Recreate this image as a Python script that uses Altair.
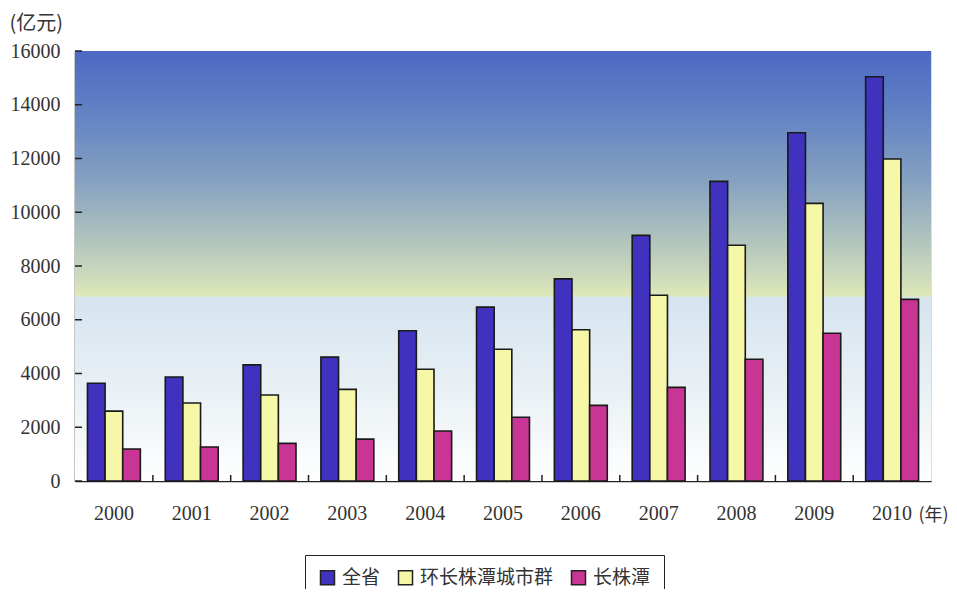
import altair as alt
import pandas as pd

years = ["2000", "2001", "2002", "2003", "2004", "2005", "2006", "2007", "2008", "2009", "2010"]
series = ["全省", "环长株潭城市群", "长株潭"]
quansheng = [3640, 3870, 4320, 4610, 5590, 6470, 7520, 9140, 11150, 12960, 15040]
huan = [2600, 2900, 3200, 3410, 4160, 4900, 5630, 6910, 8770, 10330, 11980]
czt = [1190, 1265, 1400, 1560, 1860, 2370, 2815, 3485, 4530, 5495, 6760]
colors = ["#4032bf", "#f7f7a8", "#c83595"]
y_ticks = [0, 2000, 4000, 6000, 8000, 10000, 12000, 14000, 16000]

rows = []
for s, vals in zip(series, [quansheng, huan, czt]):
    for y, v in zip(years, vals):
        rows.append({"year": y, "series": s, "value": v})
df = pd.DataFrame(rows)

W, H = 856, 430

xscale = alt.Scale(domain=years, paddingInner=0.32, paddingOuter=0.16)
yscale = alt.Scale(domain=[0, 16000], nice=False, zero=True)

bg = alt.Chart(pd.DataFrame({"a": [0]})).mark_rect(
    fill=alt.Gradient(
        gradient="linear", x1=0, y1=0, x2=0, y2=1,
        stops=[
            alt.GradientStop(offset=0.0, color="#4c68c4"),
            alt.GradientStop(offset=0.15, color="#6483c3"),
            alt.GradientStop(offset=0.30, color="#85a1c1"),
            alt.GradientStop(offset=0.42, color="#aabfbe"),
            alt.GradientStop(offset=0.52, color="#cbd9bc"),
            alt.GradientStop(offset=0.570, color="#dfe8b8"),
            alt.GradientStop(offset=0.573, color="#d6e4ef"),
            alt.GradientStop(offset=0.80, color="#eaf1f5"),
            alt.GradientStop(offset=1.0, color="#ffffff"),
        ],
    )
).encode(x=alt.value(0), x2=alt.value(W), y=alt.value(0), y2=alt.value(H))

bars = alt.Chart(df).mark_bar(stroke="#1a1a1a", strokeWidth=1.6).encode(
    x=alt.X("year:N", scale=xscale, sort=years,
            axis=alt.Axis(title="(年)", labelAngle=0, ticks=False, domain=True,
                          domainColor="#222", domainWidth=1.5,
                          labelFont="Liberation Serif", labelFontSize=20, labelColor="#333",
                          labelPadding=22,
                          titleFont="Noto Sans CJK SC", titleFontSize=18, titleFontWeight="normal",
                          titleColor="#333", titleAngle=0, titleAlign="left", titleBaseline="middle",
                          titleX=843, titleY=34)),
    xOffset=alt.XOffset("series:N", sort=series, scale=alt.Scale(domain=series, paddingInner=0, paddingOuter=0)),
    y=alt.Y("value:Q", scale=yscale,
            axis=alt.Axis(title="(亿元)", values=y_ticks, format="d", ticks=False, grid=False, domain=True,
                          domainColor="#222", domainWidth=1.5,
                          labelFont="Liberation Serif", labelFontSize=20, labelColor="#333",
                          labelPadding=15,
                          titleFont="Noto Sans CJK SC", titleFontSize=20, titleFontWeight="normal",
                          titleColor="#333", titleAngle=0, titleAlign="left", titleBaseline="middle",
                          titleX=-66, titleY=-28)),
    fill=alt.Fill("series:N", sort=series, scale=alt.Scale(domain=series, range=colors),
                  legend=alt.Legend(title=None, orient="none", direction="horizontal",
                                    legendX=230, legendY=504, padding=13,
                                    strokeColor="#222", fillColor="#ffffff",
                                    symbolType="square", symbolSize=196, symbolStrokeColor="#222",
                                    symbolStrokeWidth=1.5, labelFont="Noto Sans CJK SC",
                                    labelFontSize=19, labelColor="#333", columnPadding=14,
                                    labelOffset=5)),
)

yt = alt.Chart(pd.DataFrame({"v": y_ticks})).mark_rule(color="#222", strokeWidth=1.5).encode(
    y=alt.Y("v:Q", scale=yscale), x=alt.value(0), x2=alt.value(7)
)

xt = alt.Chart(pd.DataFrame({"year": years[1:]})).mark_rule(
    color="#222", strokeWidth=1.5, xOffset=-12.4
).encode(
    x=alt.X("year:N", scale=xscale, sort=years, bandPosition=0),
    y=alt.value(H), y2=alt.value(H - 6),
)

chart = alt.layer(bg, bars, yt, xt).properties(
    width=W, height=H,
    autosize=alt.AutoSizeParams(type="none"),
    padding={"left": 67, "top": 43, "right": 18, "bottom": 108},
).configure_view(stroke="#222", strokeWidth=1.5).configure(background="white")

chart.save("out.html", embed_options={"renderer": "svg", "actions": False})
